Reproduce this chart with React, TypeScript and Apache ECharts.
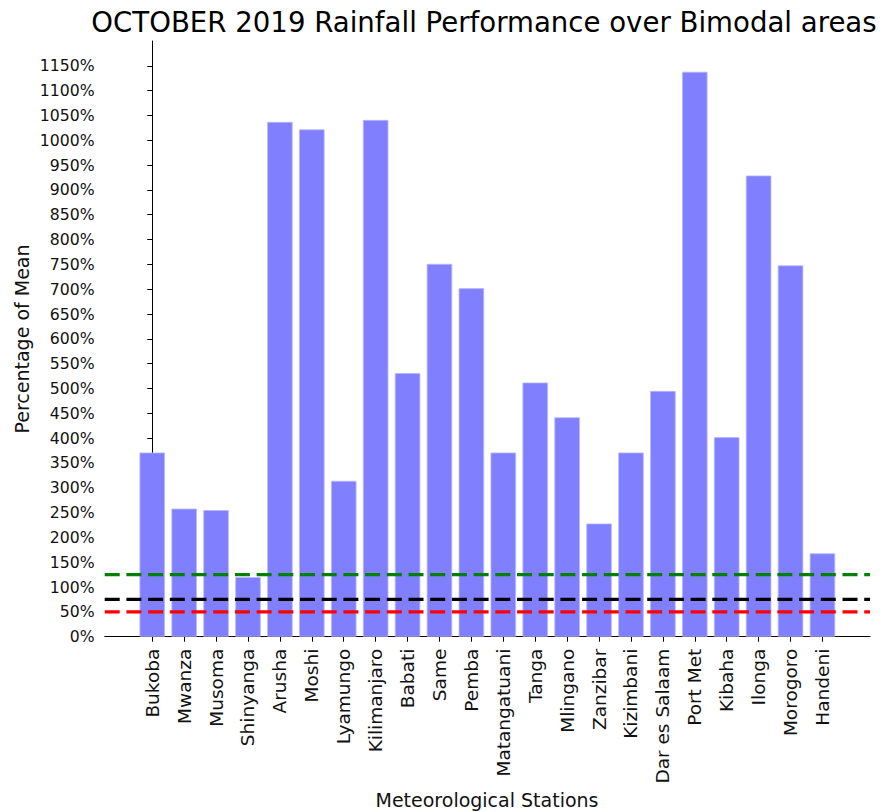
import React, { useEffect, useRef } from "react";
import * as echarts from "echarts";

// Stations along the bimodal belt, in plotting order
const stations = [
  "Bukoba", "Mwanza", "Musoma", "Shinyanga", "Arusha", "Moshi", "Lyamungo",
  "Kilimanjaro", "Babati", "Same", "Pemba", "Matangatuani", "Tanga", "Mlingano",
  "Zanzibar", "Kizimbani", "Dar es Salaam", "Port Met", "Kibaha", "Ilonga",
  "Morogoro", "Handeni",
];

// October 2019 rainfall as a percentage of the long-term mean
const percentOfMean = [
  371, 258, 255, 120, 1037, 1022, 314, 1041, 531, 751, 702, 371, 512, 442,
  228, 371, 495, 1138, 402, 929, 748, 168,
];

// Reference levels (percentage of mean) and their colours
const thresholdValues = [125, 75, 50];
const thresholdColors = ["#008000", "#000000", "#ff0000"];

// Y tick labels
const yTicks = [
  0, 50, 100, 150, 200, 250, 300, 350, 400, 450, 500, 550, 600, 650, 700,
  750, 800, 850, 900, 950, 1000, 1050, 1100, 1150,
];

const FONT = "DejaVu Sans";
const X_MIN = -1.49;
const X_MAX = 22.49;
const Y_MAX = 1200;

export default function App() {
  const ref = useRef<HTMLDivElement>(null);

  useEffect(() => {
    document.body.style.margin = "0";
    if (!ref.current) return;
    const chart = echarts.init(ref.current, null, { renderer: "svg" });
    const stationIdx = stations.map((_, i) => i);

    const option: any = {
      animation: false,
      backgroundColor: "#ffffff",
      grid: { left: 104.7, right: 16, top: 41, bottom: 175.3, containLabel: false },
      xAxis: {
        type: "value",
        min: X_MIN,
        max: X_MAX,
        splitLine: { show: false },
        axisLine: { show: true, lineStyle: { color: "#000", width: 1 } },
        axisTick: {
          show: true,
          customValues: stationIdx,
          length: 5,
          lineStyle: { color: "#000", width: 1 },
        },
        axisLabel: {
          customValues: stationIdx,
          rotate: 90,
          margin: 12,
          color: "#111",
          fontFamily: FONT,
          fontSize: 18.5,
          formatter: (v: number) => stations[Math.round(v)] ?? "",
        },
      },
      yAxis: {
        type: "value",
        min: 0,
        max: Y_MAX,
        splitLine: { show: false },
        axisLine: { show: true, lineStyle: { color: "#000", width: 1 } },
        axisTick: {
          show: true,
          customValues: yTicks,
          length: 5,
          lineStyle: { color: "#000", width: 1 },
        },
        axisLabel: {
          customValues: yTicks,
          margin: 10,
          color: "#111",
          fontFamily: FONT,
          fontSize: 15.7,
          formatter: (v: number) => `${v}%`,
        },
      },
      series: [
        {
          type: "bar",
          data: percentOfMean.map((v, i) => [i, v]),
          barWidth: 25.5,
          itemStyle: {
            color: "#8080ff",
            borderColor: "#b8b8ff",
            borderWidth: 0.8,
          },
          silent: true,
          z: 2,
        },
        ...thresholdValues.map((t, k) => ({
          type: "line",
          data: [
            [X_MIN, t],
            [X_MAX, t],
          ],
          symbol: "none",
          silent: true,
          z: 3 + k,
          lineStyle: { color: thresholdColors[k], width: 3.2, type: [15, 6.7] },
        })),
      ],
      graphic: [
        {
          type: "text",
          x: 484,
          y: 22,
          style: {
            text: "OCTOBER 2019 Rainfall Performance over Bimodal areas",
            fill: "#000",
            font: `27.6px '${FONT}'`,
            align: "center",
            verticalAlign: "middle",
            textAlign: "center",
            textVerticalAlign: "middle",
          },
        },
        {
          type: "text",
          x: 22,
          y: 339,
          rotation: Math.PI / 2,
          style: {
            text: "Percentage of Mean",
            fill: "#111",
            font: `19px '${FONT}'`,
            align: "center",
            verticalAlign: "middle",
            textAlign: "center",
            textVerticalAlign: "middle",
          },
        },
        {
          type: "text",
          x: 487,
          y: 800,
          style: {
            text: "Meteorological Stations",
            fill: "#111",
            font: `19px '${FONT}'`,
            align: "center",
            verticalAlign: "middle",
            textAlign: "center",
            textVerticalAlign: "middle",
          },
        },
      ],
    };

    chart.setOption(option);
    return () => chart.dispose();
  }, []);

  return <div ref={ref} style={{ width: 886, height: 812 }} />;
}
